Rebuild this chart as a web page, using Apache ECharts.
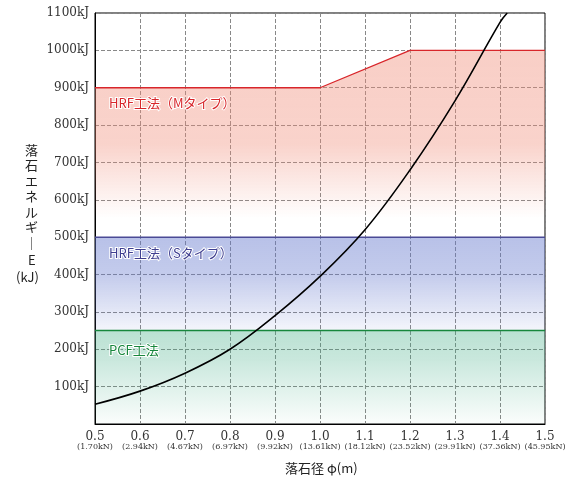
<!DOCTYPE html>
<html><head><meta charset="utf-8">
<script src="https://cdn.jsdelivr.net/npm/echarts@6/dist/echarts.min.js"></script>
<style>html,body{margin:0;background:#fff}#c{width:573px;height:490px}</style>
</head><body><div id="c"></div>
<script>
// x in tenths of a metre (5 = 0.5 m)
const xTicks = [5, 6, 7, 8, 9, 10, 11, 12, 13, 14, 15];
const loadLabels = ["1.70kN", "2.94kN", "4.67kN", "6.97kN", "9.92kN", "13.61kN", "18.12kN", "23.52kN", "29.91kN", "37.36kN", "45.95kN"];
const curve = [[5, 53], [6, 88], [7, 136], [8, 200], [9, 290], [10, 395], [11, 520], [12, 680], [13, 865], [14, 1075], [14.16, 1100]];
const mTop = [[5, 900], [10, 900], [12, 1000], [15, 1000]];
const sTop = [[5, 500], [15, 500]];
const pcfTop = [[5, 250], [15, 250]];

const grad = stops => ({type: "linear", x: 0, y: 0, x2: 0, y2: 1, global: false,
  colorStops: stops.map(s => ({offset: s[0], color: s[1]}))});
const serif = "'DejaVu Serif','Liberation Serif',serif";
const jp = "13px 'Noto Sans CJK JP'";

const chart = echarts.init(document.getElementById("c"));
chart.setOption({
  animation: false,
  grid: {left: 95, right: 28, top: 13, bottom: 66, show: true, borderColor: "#000", borderWidth: 1},
  xAxis: {
    type: "value", min: 5, max: 15, interval: 1,
    axisLine: {lineStyle: {color: "#000"}}, axisTick: {show: false},
    splitLine: {lineStyle: {type: "dashed", color: "#888"}},
    axisLabel: {
      formatter: v => "{a|" + (v / 10).toFixed(1) + "}\n{b|(" + loadLabels[xTicks.indexOf(v)] + ")}",
      rich: {a: {fontFamily: serif, fontSize: 12, color: "#333", lineHeight: 13},
             b: {fontFamily: serif, fontSize: 8, color: "#333"}},
      margin: 6
    }
  },
  yAxis: {
    type: "value", min: 0, max: 1100, interval: 100,
    axisLine: {lineStyle: {color: "#000"}}, axisTick: {show: false},
    splitLine: {lineStyle: {type: "dashed", color: "#888"}},
    axisLabel: {formatter: v => v === 0 ? "" : v + "kJ", fontFamily: serif, fontSize: 12, color: "#333", margin: 6}
  },
  series: [
    {type: "line", data: mTop, symbol: "none", z: 1,
     lineStyle: {color: "#d8262b", width: 1.3},
     areaStyle: {color: grad([[0, "rgba(240,140,120,0.6)"], [0.25, "rgba(240,140,120,0.55)"], [0.45, "rgba(240,140,120,0)"], [1, "rgba(240,140,120,0)"]])}},
    {type: "line", data: sTop, symbol: "none", z: 2,
     lineStyle: {color: "#4a4a95", width: 1.5},
     areaStyle: {color: grad([[0, "rgba(100,120,205,0.65)"], [0.2, "rgba(100,120,205,0.55)"], [0.5, "rgba(100,120,205,0.1)"], [0.5, "rgba(0,0,0,0)"], [1, "rgba(0,0,0,0)"]])}},
    {type: "line", data: pcfTop, symbol: "none", z: 3,
     lineStyle: {color: "#17873d", width: 1.5},
     areaStyle: {color: grad([[0, "rgba(60,170,130,0.5)"], [0.3, "rgba(60,170,130,0.4)"], [1, "rgba(60,170,130,0.03)"]])}},
    {type: "line", data: curve, smooth: 0.4, symbol: "none", z: 5,
     lineStyle: {color: "#000", width: 1.6}}
  ],
  graphic: [
    {type: "text", left: 108, top: 96, z: 10, style: {text: "HRF工法（Mタイプ）", fill: "#d8262b", font: jp, stroke: "#fff", lineWidth: 2}},
    {type: "text", left: 108, top: 246, z: 10, style: {text: "HRF工法（Sタイプ）", fill: "#3f3f90", font: jp, stroke: "#fff", lineWidth: 2}},
    {type: "text", left: 108, top: 343, z: 10, style: {text: "PCF工法", fill: "#17873d", font: jp, stroke: "#fff", lineWidth: 2}},
    {type: "text", left: 25, top: 142, style: {text: "落\n石\nエ\nネ\nル\nギ\n｜", fill: "#222", font: jp, lineHeight: 15.5}},
    {type: "text", left: 28, top: 254, style: {text: "E", fill: "#222", font: jp}},
    {type: "text", left: 16, top: 271, style: {text: "(kJ)", fill: "#222", font: jp}},
    {type: "text", left: 285, top: 462, style: {text: "落石径 φ(m)", fill: "#222", font: jp}}
  ]
});
</script></body></html>
